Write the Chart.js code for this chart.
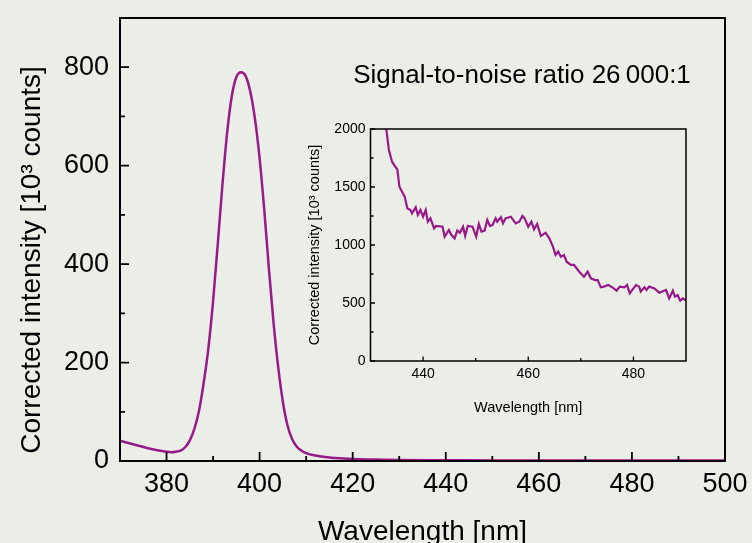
<!DOCTYPE html>
<html>
<head>
<meta charset="utf-8">
<script src="https://cdn.jsdelivr.net/npm/chart.js@4.4.1/dist/chart.umd.min.js"></script>
<style>
  html, body { margin: 0; padding: 0; background: #ebede7; }
  #wrap { position: relative; width: 752px; height: 543px; overflow: hidden; }
  #main { position: absolute; left: 0; top: 0; }
  #inset { position: absolute; left: 290px; top: 110px; }
</style>
</head>
<body>
<div id="wrap">
  <canvas id="main" width="752" height="543"></canvas>
  <canvas id="inset" width="410" height="310"></canvas>
</div>
<script>
// main spectrum (wavelength in nm, intensity in 10^3 counts)
var mainWavelength = [370, 372, 374, 376, 378, 380, 381, 382, 383, 384, 385, 386, 387, 388, 389, 390, 391, 392, 393, 394, 395, 396, 397, 398, 399, 400, 401, 402, 403, 404, 405, 406, 407, 408, 409, 410, 412, 415, 418, 420, 425, 430, 440, 450, 460, 480, 500];
var mainIntensity = [41, 36, 31, 26, 22, 19, 18, 19, 21, 28, 42, 66, 103, 160, 230, 325, 440, 560, 665, 740, 780, 790, 782, 750, 695, 615, 510, 390, 280, 190, 120, 72, 44, 29, 21, 16, 11, 7, 5, 4, 3, 2, 1.5, 1, 1, 1, 1];

// zoomed tail shown in the inset
var insetWavelength = [433.0, 433.5, 434.1, 434.8, 435.1, 435.5, 436.5, 437.0, 437.6, 437.9,
  438.6, 439.0, 439.5, 440.0, 440.5, 440.9, 441.4, 442.1, 442.5, 443.7,
  444.1, 444.9, 445.4, 446.0, 446.5, 447.0, 447.6, 448.0, 448.5, 449.4,
  450.1, 450.6, 451.1, 451.7, 452.2, 452.7, 453.2, 453.8, 454.1, 454.8,
  455.2, 455.7, 456.7, 457.6, 458.3, 458.9, 459.3, 460.0, 460.6, 461.1,
  461.7, 462.4, 463.3, 464.0, 464.7, 465.2, 465.7, 466.2, 466.8, 467.3,
  468.1, 468.7, 469.7, 470.6, 471.3, 471.9, 472.7, 473.2, 473.8, 474.4,
  475.2, 476.0, 476.8, 477.4, 478.3, 478.8, 479.3, 480.0, 480.5, 481.1,
  481.4, 482.1, 482.5, 483.0, 484.0, 484.9, 486.2, 486.8, 487.5, 487.9,
  488.4, 488.9, 489.4, 490.0];
var insetIntensity = [2000, 1819, 1718, 1670, 1652, 1503, 1417, 1316, 1302, 1273,
  1325, 1259, 1302, 1244, 1302, 1201, 1230, 1144, 1164, 1158,
  1072, 1129, 1086, 1057, 1124, 1106, 1158, 1078, 1164, 1158,
  1072, 1181, 1115, 1124, 1216, 1164, 1172, 1230, 1201, 1239,
  1187, 1230, 1244, 1187, 1201, 1250, 1230, 1158, 1201, 1135,
  1181, 1078, 1106, 1057, 986, 914, 943, 899, 914, 856,
  828, 828, 770, 727, 770, 713, 698, 698, 635, 641,
  655, 635, 606, 641, 635, 655, 583, 626, 655, 641,
  598, 635, 612, 641, 626, 589, 612, 540, 606, 555,
  569, 520, 540, 520];

// tick labels and minor ticks
var mainXTicks = [380, 400, 420, 440, 460, 480, 500];
var mainXMinor = [390, 410, 430, 450, 470, 490];
var mainYTicks = [0, 200, 400, 600, 800];
var mainYMinor = [100, 300, 500, 700];
var insetXTicks = [440, 460, 480];
var insetXMinor = [450, 470];
var insetYTicks = [0, 500, 1000, 1500, 2000];
var insetYMinor = [250, 750, 1250, 1750];

var lineColor = '#98198a';
var yTitle = 'Corrected intensity [10\u00b3 counts]';
var xTitle = 'Wavelength [nm]';
var snrText = 'Signal-to-noise ratio 26\u2009000:1';

Chart.defaults.font.family = '"Liberation Sans", Arial, sans-serif';
Chart.defaults.color = '#000';

function toPoints(xs, ys) {
  return xs.map(function (x, i) { return {x: x, y: ys[i]}; });
}

function setTicks(values) {
  return function (scale) {
    scale.ticks = values.map(function (v) { return {value: v}; });
  };
}

function plainLabel(v) { return String(v); }

// pin axis sizes so the plot box sits where the original has it
function fixHeight(h) {
  return function (s) { s.height = h; s.paddingLeft = 0; s.paddingRight = 0; };
}
function fixWidth(w) {
  return function (s) { s.width = w; s.paddingTop = 0; s.paddingBottom = 0; };
}

// inward tick marks + closed frame, like the original plot
function frameTicks(o) {
  return {
    id: 'frameTicks',
    afterDatasetsDraw: function (chart) {
      var ctx = chart.ctx, a = chart.chartArea;
      var xs = chart.scales.x, ys = chart.scales.y;
      ctx.save();
      ctx.strokeStyle = '#000';
      ctx.lineWidth = o.tickWidth;
      ctx.beginPath();
      xs.ticks.forEach(function (t) {
        var px = xs.getPixelForValue(t.value);
        ctx.moveTo(px, a.bottom); ctx.lineTo(px, a.bottom - o.major);
      });
      o.xMinor.forEach(function (v) {
        var px = xs.getPixelForValue(v);
        ctx.moveTo(px, a.bottom); ctx.lineTo(px, a.bottom - o.minor);
      });
      ys.ticks.forEach(function (t) {
        var py = ys.getPixelForValue(t.value);
        ctx.moveTo(a.left, py); ctx.lineTo(a.left + o.major, py);
      });
      o.yMinor.forEach(function (v) {
        var py = ys.getPixelForValue(v);
        ctx.moveTo(a.left, py); ctx.lineTo(a.left + o.minor, py);
      });
      ctx.stroke();
      ctx.lineWidth = o.frameWidth;
      ctx.strokeRect(a.left, a.top, a.width, a.height);
      ctx.restore();
      if (o.extra) o.extra(chart);
    }
  };
}

new Chart(document.getElementById('main'), {
  type: 'line',
  data: {
    datasets: [{
      data: toPoints(mainWavelength, mainIntensity),
      borderColor: lineColor,
      borderWidth: 2.5,
      pointRadius: 0,
      cubicInterpolationMode: 'monotone'
    }]
  },
  options: {
    responsive: false,
    animation: false,
    layout: { padding: { top: 18, right: 27, left: 0, bottom: 0 } },
    plugins: { legend: { display: false }, tooltip: { enabled: false } },
    scales: {
      x: {
        type: 'linear', min: 370, max: 500,
        afterBuildTicks: setTicks(mainXTicks),
        afterFit: fixHeight(82),
        grid: { display: false, drawTicks: false },
        border: { display: false },
        ticks: { font: { size: 27 }, padding: 7, maxRotation: 0, callback: plainLabel },
        title: { display: true, text: xTitle, font: { size: 28, lineHeight: 0.8 }, padding: { top: 0, bottom: 0 } }
      },
      y: {
        min: 0, max: 900,
        afterBuildTicks: setTicks(mainYTicks),
        afterFit: fixWidth(120),
        grid: { display: false, drawTicks: false },
        border: { display: false },
        ticks: { font: { size: 27 }, padding: 11, callback: plainLabel }
      }
    }
  },
  plugins: [frameTicks({
    major: 9, minor: 5, tickWidth: 1.8, frameWidth: 2,
    xMinor: mainXMinor, yMinor: mainYMinor,
    extra: function (chart) {
      var ctx = chart.ctx;
      ctx.save();
      ctx.fillStyle = '#000';
      ctx.font = '28px "Liberation Sans", Arial, sans-serif';
      ctx.textAlign = 'center';
      ctx.textBaseline = 'alphabetic';
      ctx.translate(40, 260);
      ctx.rotate(-Math.PI / 2);
      ctx.fillText(yTitle, 0, 0);
      ctx.restore();
      ctx.save();
      ctx.fillStyle = '#000';
      ctx.font = '26px "Liberation Sans", Arial, sans-serif';
      ctx.textAlign = 'center';
      ctx.textBaseline = 'alphabetic';
      ctx.fillText(snrText, 522, 83);
      ctx.restore();
    }
  })]
});

new Chart(document.getElementById('inset'), {
  type: 'line',
  data: {
    datasets: [{
      data: toPoints(insetWavelength, insetIntensity),
      borderColor: lineColor,
      borderWidth: 2.2,
      pointRadius: 0,
      tension: 0
    }]
  },
  options: {
    responsive: false,
    animation: false,
    layout: { padding: { top: 19, right: 14, left: 0, bottom: 0 } },
    plugins: { legend: { display: false }, tooltip: { enabled: false } },
    scales: {
      x: {
        type: 'linear', min: 430, max: 490,
        afterBuildTicks: setTicks(insetXTicks),
        afterFit: fixHeight(59),
        grid: { display: false, drawTicks: false },
        border: { display: false },
        ticks: { font: { size: 14 }, padding: 5, maxRotation: 0, callback: plainLabel },
        title: { display: true, text: xTitle, font: { size: 14.5, lineHeight: 1 }, padding: { top: 0, bottom: 5 } }
      },
      y: {
        min: 0, max: 2000,
        afterBuildTicks: setTicks(insetYTicks),
        afterFit: fixWidth(80.5),
        grid: { display: false, drawTicks: false },
        border: { display: false },
        ticks: { font: { size: 14 }, padding: 5, callback: plainLabel },
        title: { display: true, text: yTitle, font: { size: 14.5, lineHeight: 1 }, padding: { top: 18, bottom: 0 } }
      }
    }
  },
  plugins: [frameTicks({
    major: 4.5, minor: 3, tickWidth: 1.3, frameWidth: 1.5,
    xMinor: insetXMinor, yMinor: insetYMinor
  })]
});
</script>
</body>
</html>
